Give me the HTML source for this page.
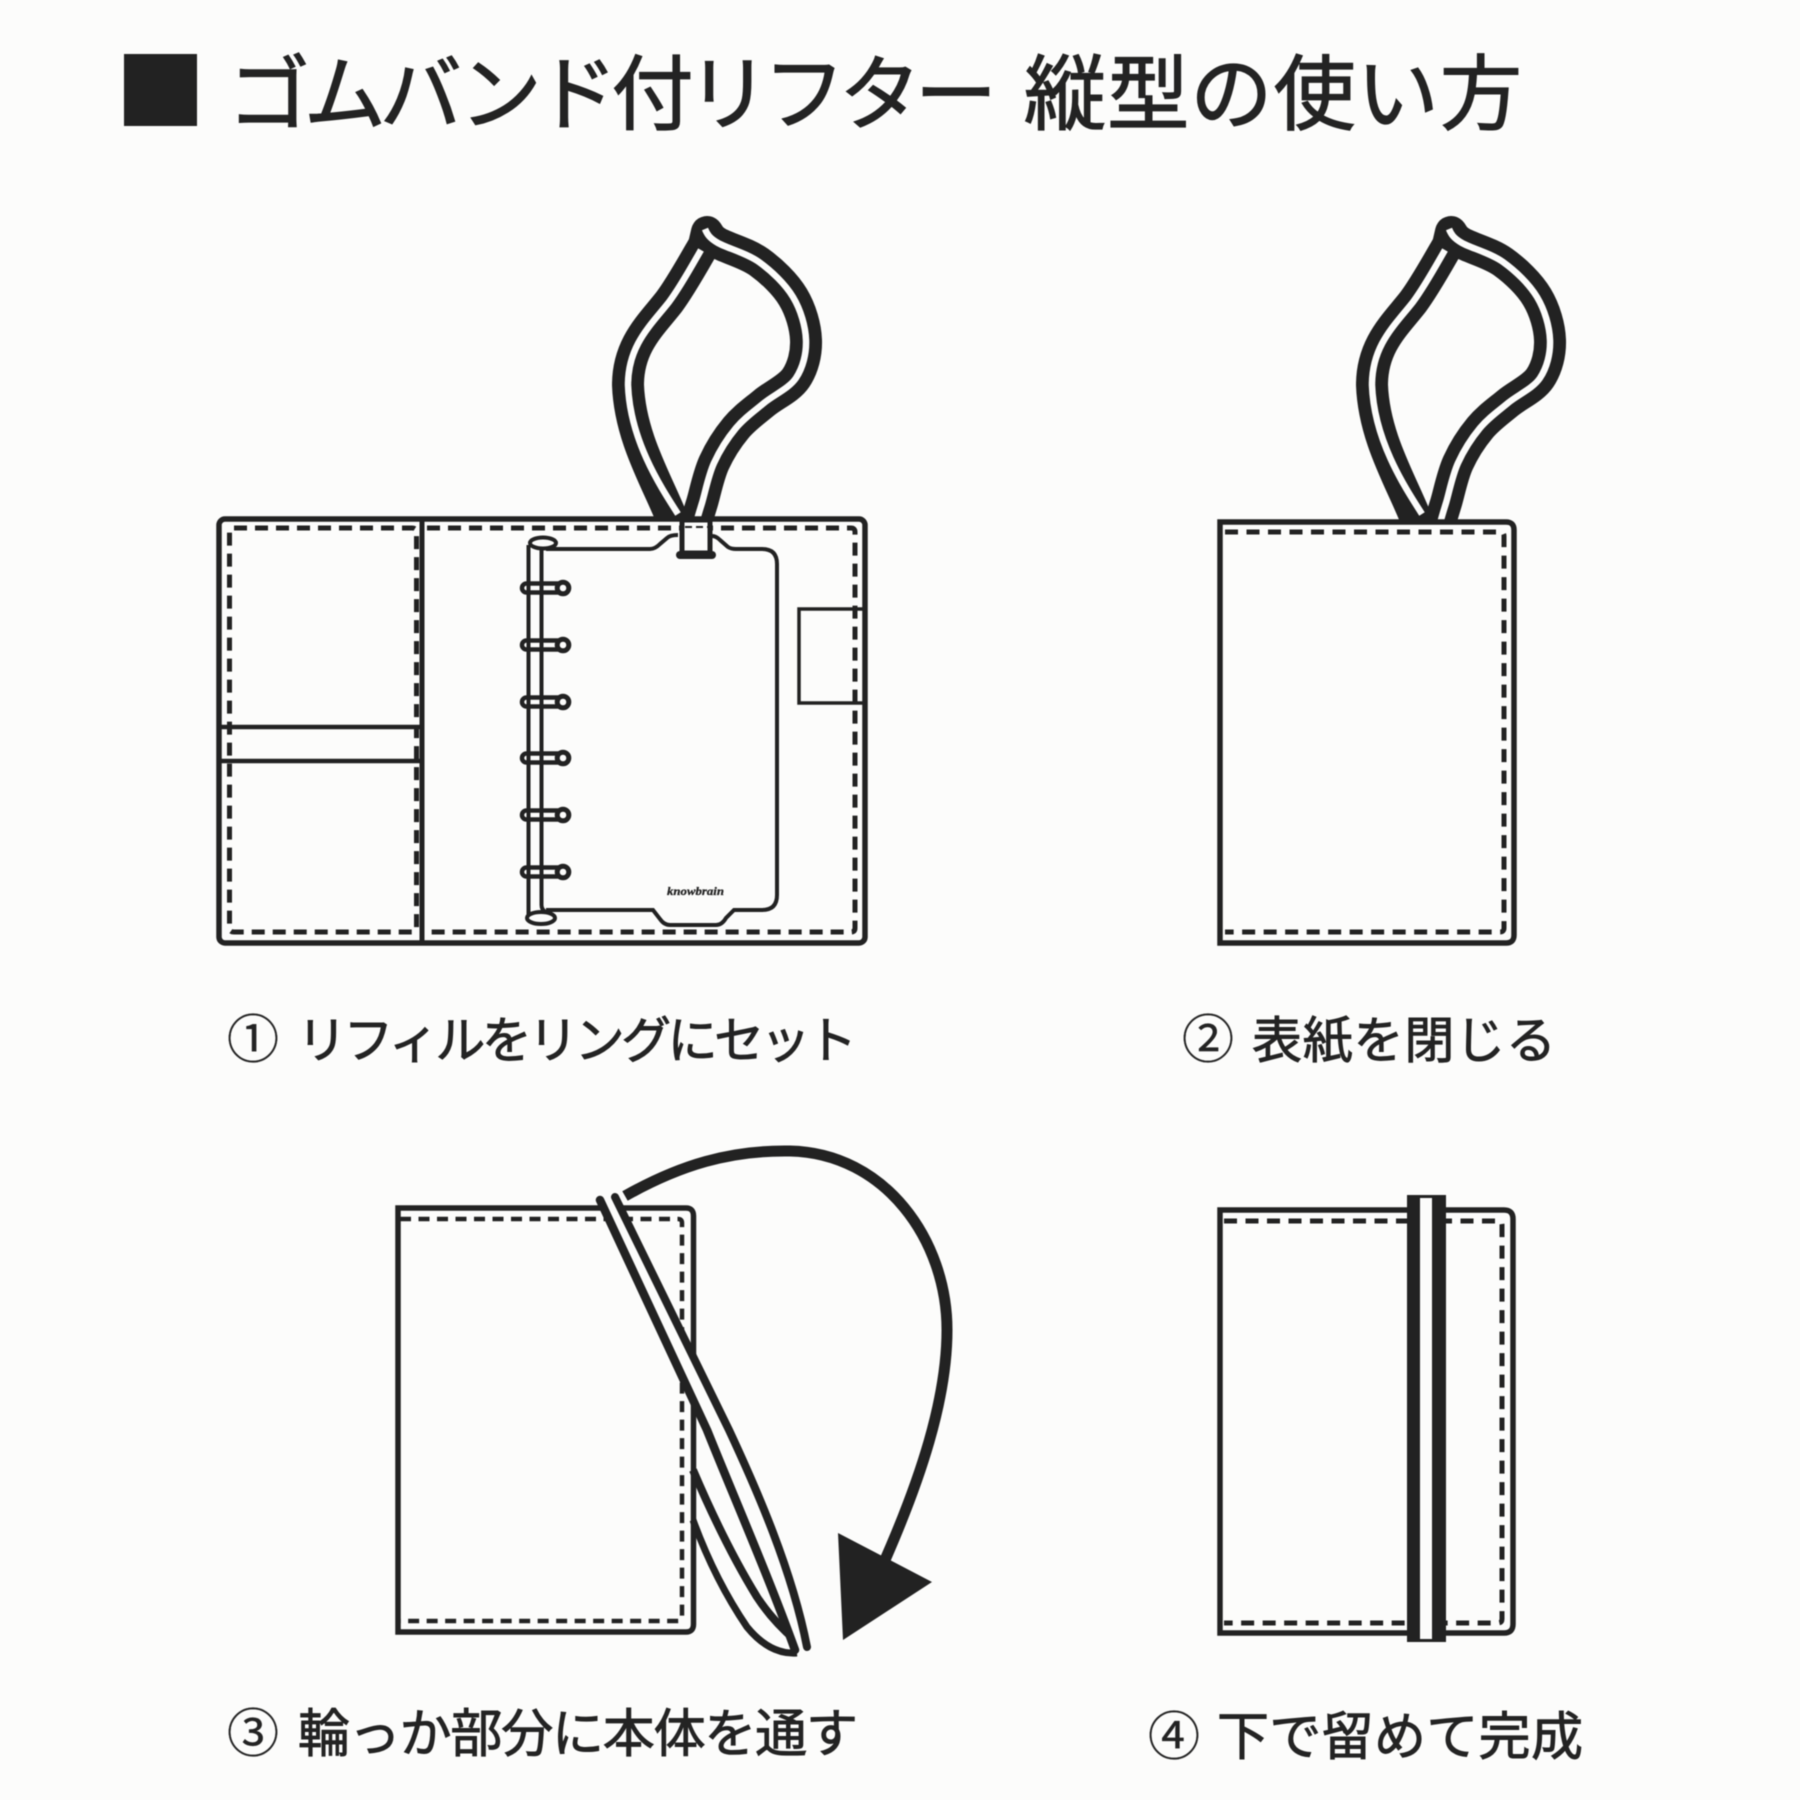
<!DOCTYPE html>
<html lang="ja"><head><meta charset="utf-8"><title>ゴムバンド付リフター 縦型の使い方</title>
<style>html,body{margin:0;padding:0;background:#fcfcfb}svg{display:block;filter:blur(0.5px)}
text{font-family:"Liberation Sans","Noto Sans CJK JP",sans-serif;fill:#232323;stroke:#232323}
.t{stroke-width:1.3px}.c{stroke-width:.9px}.n{stroke-width:.3px}</style></head>
<body>
<svg xmlns="http://www.w3.org/2000/svg" width="1800" height="1800" viewBox="0 0 1800 1800">
<defs>
<g id="band" fill="none" stroke-linejoin="round">
<path stroke="#222" stroke-width="32" d="M1418 524C1404 486 1374 440 1372 385C1372 345 1395 325 1413 302C1425 286 1441 257 1448 245L1451 232C1453 234 1453.300 238 1462 243C1470.700 248 1490.500 253 1503 262C1515.500 271 1529.200 284 1537 297C1544.800 310 1549.500 326.500 1550 340C1550.500 353.500 1547 367.500 1540 378C1533 388.500 1518 394.700 1508 403C1498 411.300 1488.300 418 1480 428C1471.700 438 1463.700 450.500 1458 463C1452.300 475.500 1449 493.200 1446 503C1443 512.800 1441 519 1440 524"/>
<path stroke="#fcfcfb" stroke-width="6.500" d="M1422 514C1404 486 1374 440 1372 385C1372 345 1395 325 1413 302C1425 286 1438 262 1445 250"/>
<path stroke="#fcfcfb" stroke-width="6.500" d="M1449 229C1451 234 1453.300 238 1462 243C1470.700 248 1490.500 253 1503 262C1515.500 271 1529.200 284 1537 297C1544.800 310 1549.500 326.500 1550 340C1550.500 353.500 1547 367.500 1540 378C1533 388.500 1518 394.700 1508 403C1498 411.300 1488.300 418 1480 428C1471.700 438 1463.700 450.500 1458 463C1452.300 475.500 1449 493.200 1446 503C1443 512.800 1441 519 1440 524"/>
</g>
<g id="ring" fill="none" stroke="#222">
<rect x="522" y="583.500" width="40" height="9" rx="4.500" stroke-width="4.500" fill="#fcfcfb"/>
<circle cx="563" cy="588" r="5.800" stroke-width="5" fill="#fcfcfb"/>
</g>
</defs>

<rect width="1800" height="1800" fill="#fcfcfb"/>

<!-- Title -->
<rect x="124" y="54" width="73" height="72" fill="#222"/>
<text class="t" x="228" y="123" font-size="82" textLength="769" lengthAdjust="spacing">ゴムバンド付リフター</text>
<text class="t" x="1024" y="123" font-size="82" textLength="498" lengthAdjust="spacing">縦型の使い方</text>

<!-- Step 1 -->
<use href="#band" transform="translate(-744 0)"/>
<g fill="none" stroke="#222">
<rect x="219" y="519" width="646" height="424" rx="6" stroke-width="5.500" fill="#fcfcfb"/>
<path d="M422 519V943" stroke-width="5"/>
<g stroke-width="5" stroke-dasharray="13 8">
<path d="M234 528H412Q416.500 528 416.500 532V928Q416.500 932 412 932H234Q229.500 932 229.500 928V532Q229.500 528 234 528Z"/>
<path d="M427 528H851Q855 528 855 532V928Q855 932 851 932H427"/>
</g>
<path d="M219 727H422M219 761H422" stroke-width="4.500"/>
<path d="M865 609H799V703H865" stroke-width="3.500"/>
<path stroke-width="4" d="M546 549H650Q655 549 660 544L667 538Q670 535 678 535M712 536Q716 536 720 540L728 547Q731 549 736 549H762Q777 549 777 564V895Q777 910 762 910H734L726 918Q722 925 716 925H670Q664 925 660 919L653 910H546"/>
<use href="#ring"/>
<use href="#ring" y="57"/>
<use href="#ring" y="114"/>
<use href="#ring" y="170"/>
<use href="#ring" y="227"/>
<use href="#ring" y="284"/>
<path d="M528.500 545V915M541.500 545V905Q541.500 910 546 912" stroke-width="4"/>
<ellipse cx="543" cy="543" rx="13" ry="5.500" stroke-width="4" fill="#fcfcfb"/>
<ellipse cx="541" cy="918" rx="14" ry="6" stroke-width="4" fill="#fcfcfb"/>
<rect x="682" y="520" width="28" height="33" stroke-width="5" fill="#fcfcfb"/>
<path d="M680 555H712" stroke-width="8" stroke-linecap="round"/>
<path d="M685 527H708" stroke-width="2" stroke-dasharray="7 4"/>
</g>
<text class="n" x="667" y="895" font-size="12" font-weight="bold" font-style="italic" textLength="57" lengthAdjust="spacingAndGlyphs" style="font-family:'Liberation Serif',serif">knowbrain</text>

<!-- Step 1 caption -->
<text class="n" x="227" y="1058" font-size="52">①</text>
<text class="c" x="297" y="1058" font-size="50" textLength="560" lengthAdjust="spacing">リフィルをリングにセット</text>

<!-- Step 2 -->
<use href="#band"/>
<g fill="none" stroke="#222">
<path d="M1220 522H1506Q1514 522 1514 530V935Q1514 943 1506 943H1220Z" stroke-width="5.500" fill="#fcfcfb"/>
<path d="M1225 532H1500Q1504 532 1504 536V928Q1504 932 1500 932H1225" stroke-width="5" stroke-dasharray="13 8.500"/>
</g>
<text class="n" x="1182" y="1058" font-size="52">②</text>
<text class="c" x="1252" y="1058" font-size="50" textLength="304" lengthAdjust="spacing">表紙を閉じる</text>

<!-- Step 3 -->
<g fill="none" stroke="#222">
<path d="M398 1208H686Q693.500 1208 693.500 1216V1624Q693.500 1632 686 1632H398Z" stroke-width="5.500" fill="#fcfcfb"/>
<path d="M400 1219H678Q682 1219 682 1223V1617Q682 1621 678 1621H400" stroke-width="4.500" stroke-dasharray="11 7.500"/>
<path d="M693 1470Q725 1545 757 1597Q772 1620 795 1640" stroke-width="8"/>
<path d="M693 1520Q715 1580 747 1627Q770 1655 797 1653" stroke-width="7"/>
<path d="M602 1200L709 1430C735 1495 770 1575 797 1652L805 1648C790 1570 755 1490 727 1430L613 1198Z" fill="#fcfcfb" stroke="none"/>
<path d="M600 1200L707 1430C733 1495 768 1575 795 1650" stroke-width="8.500" stroke-linecap="round"/>
<path d="M615 1197L729 1430C757 1490 792 1570 807 1647" stroke-width="8" stroke-linecap="round"/>
<path d="M625 1196C680 1165 730 1150 790 1151C885 1153 947 1240 947 1330C947 1400 920 1480 885 1560" stroke-width="11"/>
</g>
<path d="M838 1533L932 1582L843 1640Z" fill="#222"/>
<text class="n" x="227" y="1752" font-size="52">③</text>
<text class="c" x="298" y="1752" font-size="52" textLength="560" lengthAdjust="spacing">輪っか部分に本体を通す</text>

<!-- Step 4 -->
<g fill="none" stroke="#222">
<path d="M1220 1210H1504Q1513 1210 1513 1219V1624Q1513 1633 1504 1633H1220Z" stroke-width="5.500" fill="#fcfcfb"/>
<path d="M1224 1221H1498Q1502 1221 1502 1225V1619Q1502 1623 1498 1623H1224" stroke-width="5" stroke-dasharray="13 8.500"/>
</g>
<rect x="1407" y="1195" width="39" height="447" fill="#222"/>
<rect x="1420" y="1198" width="12" height="441" fill="#fcfcfb"/>
<text class="n" x="1148" y="1755" font-size="52">④</text>
<text class="c" x="1217" y="1755" font-size="52" textLength="366" lengthAdjust="spacing">下で留めて完成</text>
</svg>
</body></html>
